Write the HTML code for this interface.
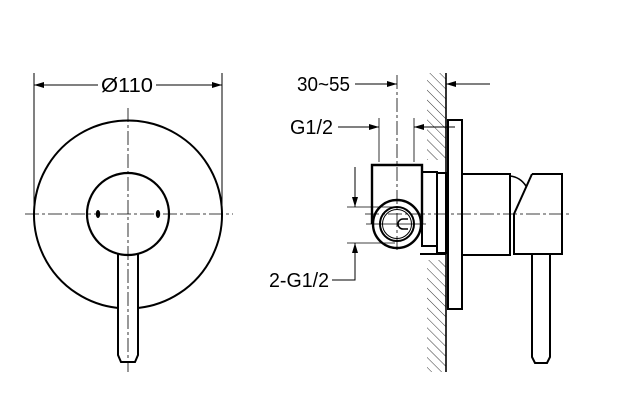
<!DOCTYPE html>
<html><head><style>body{margin:0;background:#fff}svg{display:block}</style></head><body>
<svg width="625" height="410" viewBox="0 0 625 410" xmlns="http://www.w3.org/2000/svg" font-family="Liberation Sans, sans-serif">
<defs>
<marker id="a" viewBox="0 0 10 6" refX="10" refY="3" markerWidth="10" markerHeight="6" orient="auto" markerUnits="userSpaceOnUse"><path d="M0 0L10 3L0 6z" fill="#000"/></marker>
<pattern id="h" width="7" height="7" patternUnits="userSpaceOnUse" patternTransform="rotate(-45)"><line x1="0" y1="0" x2="0" y2="7" stroke="#000" stroke-width="0.8"/></pattern>
</defs>
<g fill="none" stroke="#000">
<line x1="34" y1="73" x2="34" y2="214" stroke-width="1"/>
<line x1="222" y1="73" x2="222" y2="214" stroke-width="1"/>
<line x1="98" y1="85" x2="34" y2="85" marker-end="url(#a)"/>
<line x1="156" y1="85" x2="222" y2="85" marker-end="url(#a)"/>
<line x1="25" y1="214" x2="233" y2="214" stroke-dasharray="14 3 3 3" stroke-width="0.8"/>
<line x1="128" y1="108" x2="128" y2="372" stroke-dasharray="14 3 3 3" stroke-width="0.8"/>
<path d="M118 308 A94 94 0 1 1 138 308" stroke-width="2"/>
<circle cx="128" cy="214" r="41" stroke-width="2.2"/>
<path d="M118 254 V355 L121 362 H135 L138 355 V254" stroke-width="2"/>
<rect x="427" y="73" width="19" height="299" fill="url(#h)" stroke="none"/>
<rect x="420" y="160" width="26" height="100" fill="#fff" stroke="none"/>
<line x1="446" y1="73" x2="446" y2="372" stroke-width="1.6"/>
<rect x="448" y="120" width="14" height="189" stroke-width="2" fill="#fff"/>
<rect x="462" y="174" width="48" height="81" stroke-width="2"/>
<path d="M510 176 Q520 177 526 186" stroke-width="1.6"/>
<path d="M532 174 H562 V254 H514 V214 L532 174" stroke-width="2"/>
<path d="M532 254 V357 L535 363 H547 L550 357 V254" stroke-width="2"/>
<rect x="437" y="173" width="9" height="80" stroke-width="2"/>
<rect x="422" y="172" width="15" height="74" stroke-width="2"/>
<line x1="420" y1="254" x2="446" y2="254" stroke-width="2"/>
<path d="M372 224 V165 H422 V224" stroke-width="2.4" fill="#fff"/>
<circle cx="397" cy="224" r="24" stroke-width="2.4" fill="#fff"/>
<circle cx="397" cy="224" r="17" stroke-width="2"/>
<circle cx="397" cy="224" r="14.5" stroke-width="1"/>
<path d="M408 219 H403 A5 5 0 0 0 403 229 H408" stroke-width="1.5"/>
<line x1="365" y1="214" x2="572" y2="214" stroke-dasharray="14 3 3 3" stroke-width="0.8"/>
<line x1="366" y1="224" x2="426" y2="224" stroke-width="0.8"/>
<line x1="397" y1="75" x2="397" y2="253" stroke-dasharray="14 3 3 3" stroke-width="0.8"/>
<line x1="379" y1="118" x2="379" y2="162" stroke-width="0.8"/>
<line x1="414" y1="118" x2="414" y2="162" stroke-width="0.8"/>
<line x1="355" y1="84" x2="397" y2="84" marker-end="url(#a)"/>
<line x1="490" y1="84" x2="446" y2="84" marker-end="url(#a)"/>
<line x1="338" y1="127" x2="379" y2="127" marker-end="url(#a)"/>
<line x1="455" y1="127" x2="414" y2="127" marker-end="url(#a)"/>
<line x1="347" y1="207" x2="395" y2="207" stroke-width="0.8"/>
<line x1="347" y1="243" x2="395" y2="243" stroke-width="0.8"/>
<line x1="355" y1="167" x2="355" y2="207" marker-end="url(#a)"/>
<path d="M332 280 H355 V243" marker-end="url(#a)"/>
</g>
<ellipse cx="98" cy="214" rx="2.2" ry="4" fill="#000"/>
<ellipse cx="158" cy="214" rx="2.2" ry="4" fill="#000"/>
<g font-size="20" fill="#000">
<text x="101" y="92" textLength="52" lengthAdjust="spacingAndGlyphs">Ø110</text>
<text x="297" y="91" textLength="53" lengthAdjust="spacingAndGlyphs">30~55</text>
<text x="290" y="134" textLength="43" lengthAdjust="spacingAndGlyphs">G1/2</text>
<text x="269" y="287" textLength="60" lengthAdjust="spacingAndGlyphs">2-G1/2</text>
</g>
</svg>
</body></html>
